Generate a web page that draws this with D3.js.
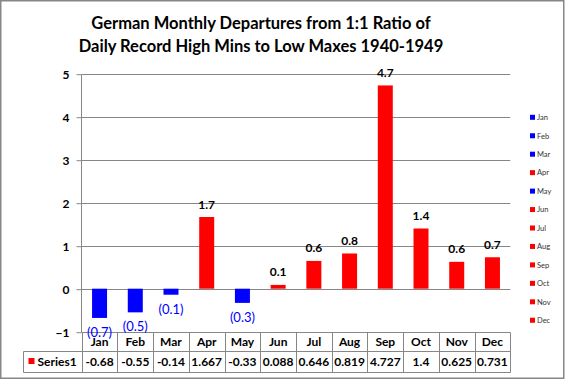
<!DOCTYPE html>
<html><head><meta charset="utf-8">
<script src="https://cdn.jsdelivr.net/npm/d3@7"></script>
<style>
html,body{margin:0;padding:0;background:#fff;}
svg{display:block;font-family:Lato,"Liberation Sans",sans-serif;}
</style></head>
<body>
<svg id="c" width="566" height="380"></svg>
<script>
const titleLines = ["German Monthly Departures from 1:1 Ratio of", "Daily Record High Mins to Low Maxes 1940-1949"];
const months = ["Jan","Feb","Mar","Apr","May","Jun","Jul","Aug","Sep","Oct","Nov","Dec"];
const values = [-0.68, -0.55, -0.14, 1.667, -0.33, 0.088, 0.646, 0.819, 4.727, 1.4, 0.625, 0.731];
const barLabels = ["(0.7)","(0.5)","(0.1)","1.7","(0.3)","0.1","0.6","0.8","4.7","1.4","0.6","0.7"];
const tableLabels = ["-0.68","-0.55","-0.14","1.667","-0.33","0.088","0.646","0.819","4.727","1.4","0.625","0.731"];
const seriesName = "Series1";
const yTicks = [-1, 0, 1, 2, 3, 4, 5];

const svg = d3.select("#c");
const grid = "#868686";
const posColor = "#ff0000", negColor = "#0000ff";

svg.append("rect").attr("x",0.75).attr("y",0.75).attr("width",563).attr("height",377.5)
  .attr("fill","#fff").attr("stroke","#878787").attr("stroke-width",1.5);

// title
svg.append("g").selectAll("text").data(titleLines).join("text")
  .attr("x",261).attr("y",(d,i)=>29+i*23).attr("text-anchor","middle")
  .attr("font-size",16.5).attr("font-weight","bold").attr("fill","#000").text(d=>d);

const x = d3.scaleBand().domain(months).range([81.7, 510.3]).paddingInner(0.58).paddingOuter(0.29);
const y = d3.scaleLinear().domain([-1, 5]).range([331.7, 73.7]);
const step = x.step();
const colL = m => x(m) - x.paddingInner()*step/2;

// gridlines
svg.append("g").selectAll("line").data(yTicks).join("line")
  .attr("x1",81.7).attr("x2",510.3).attr("y1",d=>Math.round(y(d))+0.5).attr("y2",d=>Math.round(y(d))+0.5)
  .attr("stroke",grid).attr("stroke-width",1);

// y axis
const yAxis = d3.axisLeft(y).tickValues(yTicks).tickSize(5).tickPadding(7).tickFormat(d3.format("d"));
const ga = svg.append("g").attr("transform","translate(81.5,0.5)").call(yAxis);
ga.select(".domain").attr("stroke",grid).attr("d","M0,"+(Math.round(y(5)))+"V"+Math.round(y(-1)));
ga.selectAll(".tick line").attr("stroke",grid);
ga.selectAll(".tick text").attr("font-size",12).attr("font-weight","bold").attr("fill","#000")
  .attr("font-family","Lato,sans-serif");

// bars
svg.append("g").selectAll("rect").data(values).join("rect")
  .attr("x",(d,i)=>x(months[i])).attr("width",x.bandwidth())
  .attr("y",d=>Math.min(y(d),y(0))).attr("height",d=>Math.abs(y(d)-y(0)))
  .attr("fill",d=>d<0?negColor:posColor);

// bar labels
svg.append("g").selectAll("text").data(values).join("text")
  .attr("x",(d,i)=>x(months[i])+x.bandwidth()/2)
  .attr("y",d=>d<0 ? y(d)+19 : y(d)-8.5)
  .attr("text-anchor","middle").attr("font-size",d=>d<0?13:12)
  .attr("font-weight",d=>d<0?"normal":"bold")
  .attr("fill",d=>d<0?negColor:"#000")
  .text((d,i)=>barLabels[i]);

// data table
const tTop = Math.round(y(-1))+0.5, tMid = 351.5, tBot = 372.5, tLeft = 23.5, tRight = 510.5;
const tg = svg.append("g").attr("stroke",grid).attr("stroke-width",1);
tg.append("line").attr("x1",tLeft).attr("x2",tRight).attr("y1",tMid).attr("y2",tMid);
tg.append("line").attr("x1",tLeft).attr("x2",tRight).attr("y1",tBot).attr("y2",tBot);
tg.append("line").attr("x1",tLeft).attr("x2",tLeft).attr("y1",tMid).attr("y2",tBot);
tg.selectAll("line.col").data(months).join("line").attr("class","col")
  .attr("x1",m=>Math.round(colL(m))+0.5).attr("x2",m=>Math.round(colL(m))+0.5)
  .attr("y1",tTop).attr("y2",tBot);
tg.append("line").attr("x1",tRight).attr("x2",tRight).attr("y1",tTop).attr("y2",tBot);

svg.append("g").selectAll("text").data(months).join("text")
  .attr("x",m=>x(m)+x.bandwidth()/2).attr("y",346).attr("text-anchor","middle")
  .attr("font-size",12).attr("font-weight","bold").attr("fill","#000").text(m=>m);
svg.append("g").selectAll("text").data(tableLabels).join("text")
  .attr("x",(d,i)=>x(months[i])+x.bandwidth()/2).attr("y",366).attr("text-anchor","middle")
  .attr("font-size",12).attr("font-weight","bold").attr("fill","#000").text(d=>d);
svg.append("rect").attr("x",28.5).attr("y",358).attr("width",6).attr("height",6).attr("fill",posColor);
svg.append("text").attr("x",37.5).attr("y",366).attr("font-size",12).attr("font-weight","bold")
  .attr("fill","#000").text(seriesName);

// legend
const lg = svg.append("g").selectAll("g").data(months).join("g")
  .attr("transform",(m,i)=>`translate(530,${117.3+i*18.45})`);
lg.append("rect").attr("x",0).attr("y",-2.5).attr("width",5).attr("height",5)
  .attr("fill",(m,i)=>values[i]<0?negColor:posColor);
lg.append("text").attr("x",7).attr("y",2.8).attr("font-size",7.5).attr("fill","#333").text(m=>m);
</script>
</body></html>
